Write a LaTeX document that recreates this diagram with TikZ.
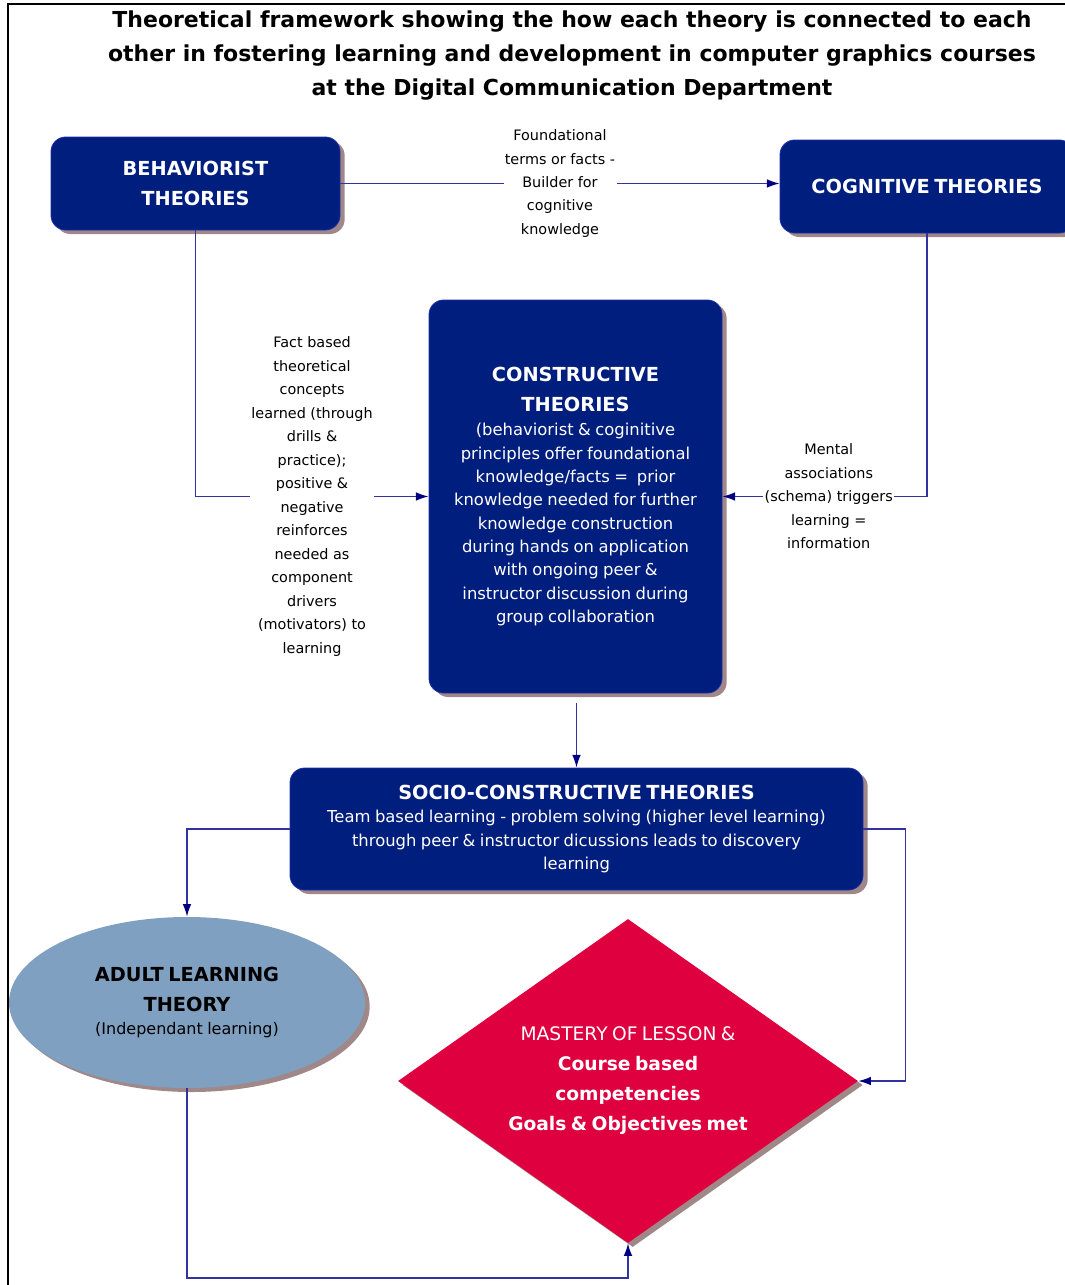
\documentclass[tikz,border=0pt]{standalone}
\usepackage{fontspec}
\setmainfont{DejaVu Sans}
\usetikzlibrary{shapes.geometric,arrows.meta,shadows}
\definecolor{navy}{RGB}{0,30,125}
\definecolor{navyedge}{RGB}{30,45,170}
\definecolor{shadowc}{RGB}{160,136,136}
\definecolor{linec}{RGB}{50,50,160}
\definecolor{arrowc}{RGB}{0,0,128}
\definecolor{adultc}{RGB}{127,160,192}
\definecolor{mastc}{RGB}{223,0,63}
\newcommand{\boxtitle}{\fontsize{14.5}{22.5}\selectfont\bfseries}
\newcommand{\boxbody}{\fontsize{12.3}{17.5}\selectfont}
\begin{document}
\begin{tikzpicture}[x=0.75pt,y=-0.75pt,
  shade/.style={drop shadow={shadow xshift=3.5pt,shadow yshift=-3pt,fill=shadowc,opacity=1}},
  tbox/.style={rectangle,rounded corners=11pt,fill=navy,draw=navyedge,line width=0.6pt,
    text=white,inner sep=2pt,align=center,shade},
  conn/.style={draw=linec,line width=1.1pt,-{Latex[length=9.5pt,width=6.5pt,color=arrowc]}},
  lbl/.style={fill=white,text=black,font=\fontsize{10.8}{17.6}\selectfont,align=center,inner sep=1pt}]
\useasboundingbox (0,0) rectangle (1064,1285);
\draw[line width=2.2pt] (8,1290) -- (8,4) -- (1070,4);

\node[align=center,font=\fontsize{16.5}{25.5}\selectfont\bfseries] (title) at (572,56)
  {Theoretical framework showing the how each theory is connected to each\\
   other in fostering learning and development in computer graphics courses\\
   at the Digital Communication Department};

\node[tbox,minimum width=216.75pt,minimum height=69.75pt,text width=200pt] (beh) at (195.5,183.5)
  {\boxtitle BEHAVIORIST\\THEORIES\par};
\node[tbox,minimum width=220.5pt,minimum height=69.75pt,text width=210pt] (cog) at (927,186.5)
  {\boxtitle COGNITIVE THEORIES\par};
\node[tbox,minimum width=219.75pt,minimum height=294.75pt,text width=212pt] (con) at (575.5,496.5)
  {{\boxtitle CONSTRUCTIVE\\THEORIES\par}\vspace{1pt}
   {\boxbody (behaviorist \& coginitive\\principles offer foundational\\knowledge/facts =\ \ prior\\
   knowledge needed for further\\knowledge construction\\during hands on application\\
   with ongoing peer \&\\instructor discussion during\\group collaboration\par}};
\node[tbox,minimum width=429.75pt,minimum height=91.5pt,text width=420pt] (soc) at (576.5,829)
  {{\boxtitle SOCIO-CONSTRUCTIVE THEORIES\par}
   {\boxbody Team based learning - problem solving (higher level learning)\\
   through peer \& instructor dicussions leads to discovery\\learning\par}};
\node[ellipse,fill=adultc,shade,inner sep=0pt,minimum width=267pt,minimum height=128.25pt,
  text width=170pt,align=center,text=black] (adult) at (187,1002.5)
  {{\boxtitle ADULT LEARNING\\THEORY\par}
   {\fontsize{12}{17.5}\selectfont (Independant learning)\par}};
\node[diamond,aspect=1.42,fill=mastc,shade,inner sep=0pt,minimum width=345pt,minimum height=243pt,
  text width=190pt,align=center,text=white] (mast) at (628,1081)
  {\fontsize{14}{22.5}\selectfont MASTERY OF LESSON \&\\\bfseries Course based\\competencies\\Goals \& Objectives met\par};

\draw[conn] (beh.east) -- (beh.east -| cog.west)
  node[lbl,midway] {Foundational\\terms or facts -\\Builder for\\cognitive\\knowledge};
\draw[conn] (beh.south) |- (con.west)
  node[lbl,pos=0.75] {Fact based\\theoretical\\concepts\\learned (through\\drills \&\\practice);\\positive \&\\negative\\reinforces\\needed as\\component\\drivers\\(motivators) to\\learning};
\draw[conn] (cog.south) |- (con.east)
  node[lbl,pos=0.74] {Mental\\associations\\(schema) triggers\\learning =\\information};
\draw[conn] ([yshift=-7.5pt]con.south -| soc.north) -- (soc.north);
\draw[conn] (soc.west) -| (adult.north);
\draw[conn] (soc.east) -- ++(42,0) |- (mast.east);
\coordinate (bot) at (400,1278);
\draw[conn] (adult.south) |- (bot) -| (mast.south);
\end{tikzpicture}
\end{document}
